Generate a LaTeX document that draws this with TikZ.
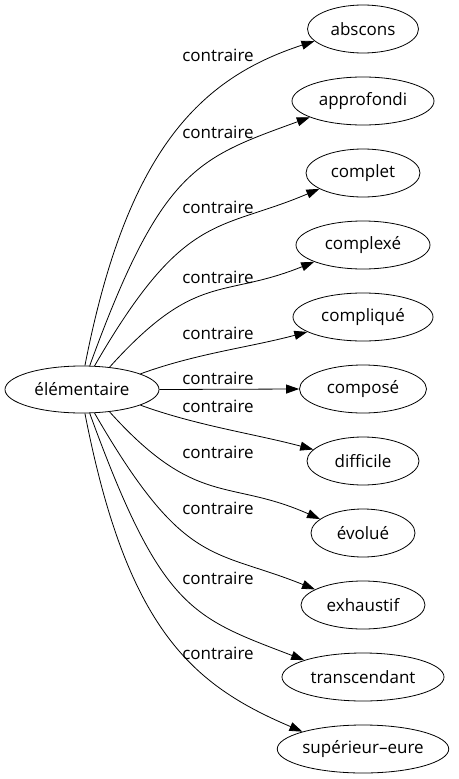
\documentclass[tikz,border=0pt]{standalone}
\usepackage{fontspec}
\setmainfont{Open Sans}
\usetikzlibrary{arrows.meta}
\usetikzlibrary{shapes.geometric}

\begin{document}
\begin{tikzpicture}[x=1pt, y=-1pt,
	word ellipse/.style={draw, ellipse, line width=0.8pt, minimum height=48pt, inner sep=0pt, font=\fontsize{17}{20}\selectfont},
	rel arrow/.style={line width=0.8pt, -{Triangle[length=13pt, width=9pt]}},
	rel label/.style={font=\fontsize{17}{20}\selectfont},
]
	\useasboundingbox (0,0) rectangle (458,779);

	\node[word ellipse, minimum width=154pt, minimum height=47pt] (elem) at (82,389.5) {élémentaire};

	\node[word ellipse, minimum width=111pt] (abscons) at (363,29) {abscons};
	\node[word ellipse, minimum width=142pt] (approfondi) at (363,101) {approfondi};
	\node[word ellipse, minimum width=114pt] (complet) at (363,173) {complet};
	\node[word ellipse, minimum width=134pt] (complexe) at (363,245) {complexé};
	\node[word ellipse, minimum width=140pt] (complique) at (363,317) {compliqué};
	\node[word ellipse, minimum width=127pt] (compose) at (363,389) {composé};
	\node[word ellipse, minimum width=112pt] (difficile) at (363,461) {difficile};
	\node[word ellipse, minimum width=104pt] (evolue) at (363,533) {évolué};
	\node[word ellipse, minimum width=124pt] (exhaustif) at (363,605) {exhaustif};
	\node[word ellipse, minimum width=162pt] (transcendant) at (363,677) {transcendant};
	\node[word ellipse, minimum width=166pt] (superieur) at (363,749) {supérieur–eure};

	% upper fan
	\draw[rel arrow] (elem.83) .. controls +(79:220pt) and +(198:120pt) .. (abscons.194);
	\draw[rel arrow] (elem.72) .. controls +(70:210pt) and +(200:120pt) .. (approfondi.197);
	\draw[rel arrow] (elem.62) .. controls +(60:180pt) and +(203:110pt) .. (complet.200);
	\draw[rel arrow] (elem.39) .. controls +(48:130pt) and +(202:100pt) .. (complexe.199);
	\draw[rel arrow] (elem.15) .. controls +(20:60pt) and +(195:60pt) .. (complique.195);
	\draw[rel arrow] (elem.east) -- (compose.west);
	% lower fan
	\draw[rel arrow] (elem.345) .. controls +(340:60pt) and +(165:60pt) .. (difficile.167);
	\draw[rel arrow] (elem.321) .. controls +(312:130pt) and +(156:100pt) .. (evolue.162);
	\draw[rel arrow] (elem.298) .. controls +(300:180pt) and +(158:110pt) .. (exhaustif.162);
	\draw[rel arrow] (elem.288) .. controls +(290:210pt) and +(159:120pt) .. (transcendant.164);
	\draw[rel arrow] (elem.277) .. controls +(281:220pt) and +(157:120pt) .. (superieur.164);

	\node[rel label] (l1) at (218,55) {contraire};
	\node[rel label] (l2) at (218,132) {contraire};
	\node[rel label] (l3) at (218,207) {contraire};
	\node[rel label] (l4) at (218,277) {contraire};
	\node[rel label] (l5) at (218,333) {contraire};
	\node[rel label] (l6) at (218,378) {contraire};
	\node[rel label] (l7) at (218,406) {contraire};
	\node[rel label] (l8) at (218,452) {contraire};
	\node[rel label] (l9) at (218,508) {contraire};
	\node[rel label] (l10) at (218,578) {contraire};
	\node[rel label] (l11) at (218,653) {contraire};
\end{tikzpicture}
\end{document}
